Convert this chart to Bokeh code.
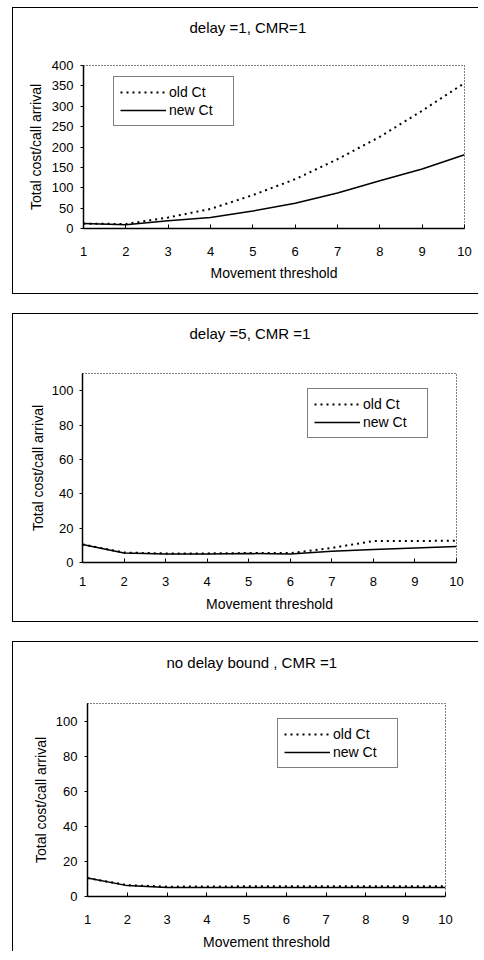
from bokeh.plotting import figure
from bokeh.models import Legend, LegendItem, Range1d, FixedTicker, Title
from bokeh.embed import file_html
from bokeh.resources import INLINE

# ---- data ----
thresholds = [1, 2, 3, 4, 5, 6, 7, 8, 9, 10]

d1_old = [12, 11, 27, 48, 82, 121, 170, 225, 289, 357]
d1_new = [12, 9, 19, 27, 43, 62, 87, 117, 146, 181]

d5_old = [10.5, 5.8, 5.3, 5.3, 5.5, 5.5, 8.5, 12.5, 12.5, 12.7]
d5_new = [10.5, 5.5, 4.9, 4.9, 5.2, 5.0, 6.5, 7.6, 8.5, 9.3]

dnb_old = [10.5, 6.5, 5.6, 5.7, 5.8, 5.8, 5.8, 5.8, 5.8, 5.8]
dnb_new = [10.5, 6.2, 5.2, 5.1, 5.1, 5.1, 5.1, 5.1, 5.1, 5.1]

titles = ["delay =1, CMR=1", "delay =5, CMR =1", "no delay bound , CMR =1"]
series_names = ["old Ct", "new Ct"]
x_label = "Movement threshold"
y_label = "Total cost/call arrival"
y1_ticks = [0, 50, 100, 150, 200, 250, 300, 350, 400]
y2_ticks = [0, 20, 40, 60, 80, 100]

FONT = "Liberation Sans"
W = 466


def make_panel(title, old, new, height, ymax, yticks, mb, legend_xy,
               tick_std, lab_std, title_off, spacer, css):
    left, right, top, bottom = mb
    p = figure(width=W, height=height, output_backend="svg", toolbar_location=None,
               x_range=Range1d(1, 10), y_range=Range1d(0, ymax),
               min_border_left=left, min_border_right=right,
               min_border_top=top, min_border_bottom=bottom)
    p.title_location = None
    p.grid.visible = False
    p.outline_line_color = "black"
    p.outline_line_dash = "1 2"
    p.outline_line_width = 1
    p.background_fill_color = "white"
    p.border_fill_color = "white"

    for ax in (p.xaxis[0], p.yaxis[0]):
        ax.axis_line_color = "black"
        ax.axis_line_width = 1.5
        ax.major_tick_line_color = "black"
        ax.minor_tick_line_color = None
        ax.major_label_text_font = FONT
        ax.major_label_text_font_size = "13px"
        ax.major_label_text_color = "black"
        ax.axis_label_text_font = FONT
        ax.axis_label_text_font_size = "14px"
        ax.axis_label_text_font_style = "normal"
        ax.axis_label_text_color = "black"

    p.xaxis.ticker = FixedTicker(ticks=thresholds)
    p.xaxis.major_tick_in = 4
    p.xaxis.major_tick_out = 0
    p.xaxis.major_label_standoff = tick_std[0]
    p.xaxis.axis_label = x_label
    p.xaxis.axis_label_standoff = lab_std[0]

    p.yaxis.ticker = FixedTicker(ticks=yticks)
    p.yaxis.major_tick_in = 0
    p.yaxis.major_tick_out = 3
    p.yaxis.major_label_standoff = tick_std[1]
    p.yaxis.axis_label = y_label
    p.yaxis.axis_label_standoff = lab_std[1]

    r_old = p.line(thresholds, old, line_color="black", line_width=2, line_dash="2 4")
    r_new = p.line(thresholds, new, line_color="black", line_width=1.5)

    leg = Legend(items=[LegendItem(label=series_names[0], renderers=[r_old]),
                        LegendItem(label=series_names[1], renderers=[r_new])],
                 location=legend_xy, orientation="vertical",
                 label_text_font=FONT, label_text_font_size="14px", label_text_color="black",
                 border_line_color="black", border_line_width=1.2,
                 background_fill_color="white", background_fill_alpha=1,
                 glyph_width=46, glyph_height=18, label_height=18, label_standoff=3,
                 label_width=58, padding=6, spacing=0, margin=0)
    p.add_layout(leg, "center")

    # empty spacer between plot area and title, then the title
    p.add_layout(Title(text=" ", text_font_size="1px", standoff=spacer), "above")
    p.add_layout(Title(text=title, align="left", offset=title_off, vertical_align="bottom",
                       text_font=FONT, text_font_size="15px", text_font_style="normal",
                       text_color="black", standoff=10), "above")
    p.styles = css
    return p


css1 = {"margin-left": "12px", "margin-top": "7px", "border-top": "1px solid black",
        "border-left": "1px solid black", "border-bottom": "1px solid black"}
css2 = {"margin-left": "12px", "margin-top": "19px",
        "border-top": "1px solid black", "border-left": "1px solid black",
        "border-bottom": "1px solid black"}
css3 = {"margin-left": "12px", "margin-top": "19px",
        "border-top": "1px solid black", "border-left": "1px solid black"}

p1 = make_panel(titles[0], d1_old, d1_new, 287, 400, y1_ticks,
                (70, 15, 57, 67), (30, 102), (18, 7), (6, 5), 106, 22, css1)
p2 = make_panel(titles[1], d5_old, d5_new, 309, 110, y2_ticks,
                (69, 23, 59, 61), (225, 124), (14, 6), (7, 3), 107, 24, css2)
p3 = make_panel(titles[2], dnb_old, dnb_new, 310, 110, y2_ticks,
                (74, 34, 61, 55), (190, 128), (18, 7), (7, 4), 79, 25, css3)

open("out.html", "w").write(file_html([p1, p2, p3], INLINE))
